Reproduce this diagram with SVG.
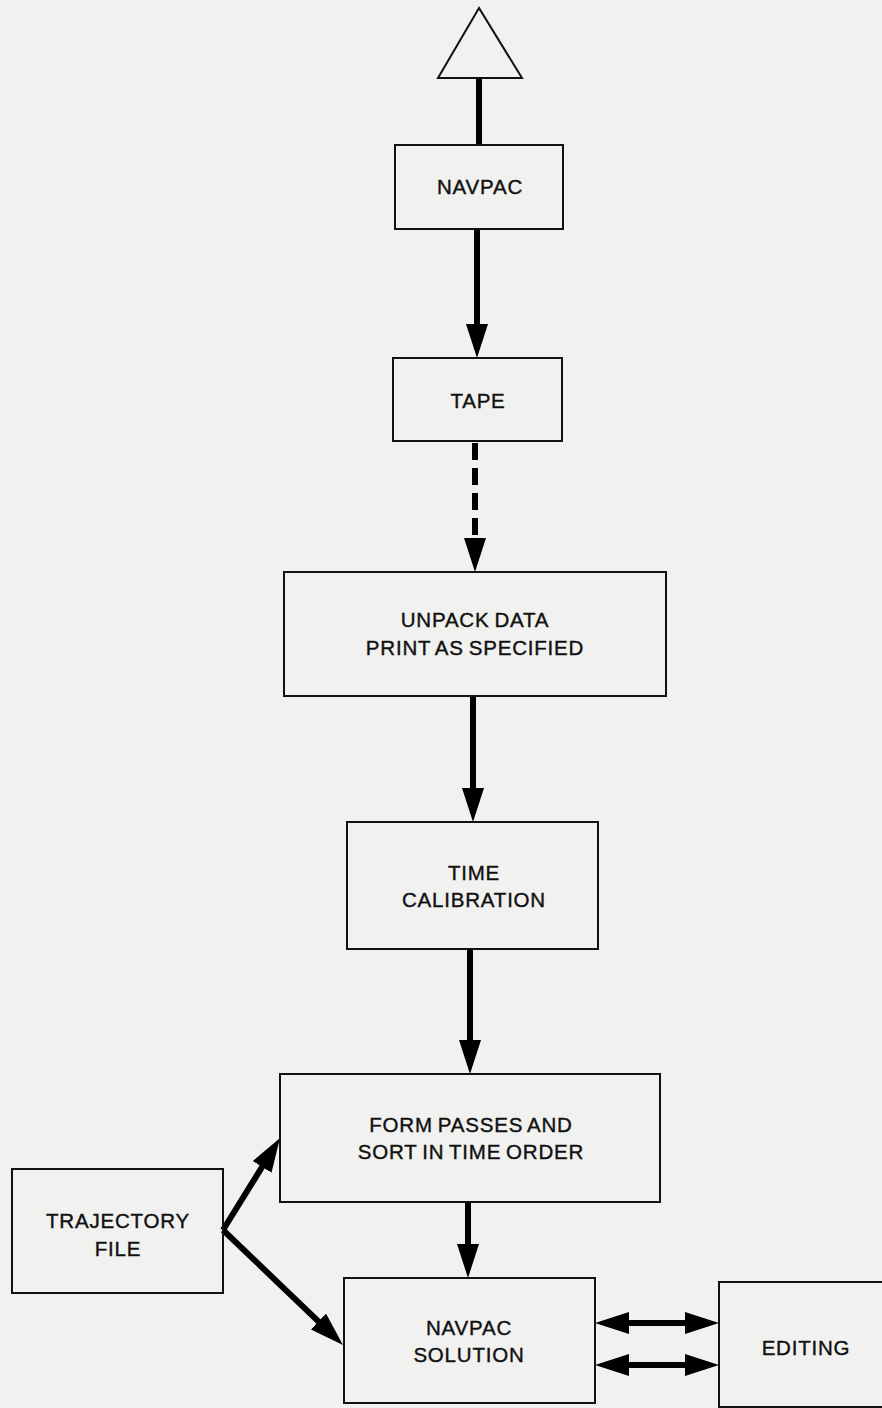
<svg xmlns="http://www.w3.org/2000/svg" width="882" height="1408" viewBox="0 0 882 1408">
  <style>
    .box { fill: none; stroke: #111; stroke-width: 2; }
    .lbl { font-family: "Liberation Sans", Arial, sans-serif; font-size: 20.5px; fill: #111; text-anchor: middle; letter-spacing: 0.8px; word-spacing: -1.5px; stroke: #111; stroke-width: 0.4; }
    .conn { stroke: #000; stroke-width: 6; fill: none; }
    .dash { stroke-dasharray: 17 8; }
  </style>
  <defs>
    <marker id="ah" viewBox="0 0 34 22" refX="22" refY="11" markerWidth="34" markerHeight="22" markerUnits="userSpaceOnUse" orient="auto-start-reverse">
      <path d="M0,0 L34,11 L0,22 Z" fill="#000"/>
    </marker>
  </defs>
  <rect width="882" height="1408" fill="#f1f1ef"/>

  <g id="connectors">
    <line class="conn" x1="479" y1="78" x2="479" y2="145"/>
    <line class="conn" x1="477" y1="229" x2="477" y2="346" marker-end="url(#ah)"/>
    <line class="conn dash" x1="475" y1="443" x2="475" y2="560" marker-end="url(#ah)"/>
    <line class="conn" x1="473" y1="696" x2="473" y2="810" marker-end="url(#ah)"/>
    <line class="conn" x1="470" y1="949" x2="470" y2="1062" marker-end="url(#ah)"/>
    <line class="conn" x1="468" y1="1202" x2="468" y2="1266" marker-end="url(#ah)"/>
    <line class="conn" x1="223" y1="1230" x2="273.7" y2="1148.2" marker-end="url(#ah)"/>
    <line class="conn" x1="223" y1="1230" x2="334.3" y2="1336.7" marker-end="url(#ah)"/>
    <line class="conn" x1="607" y1="1323" x2="707" y2="1323" marker-start="url(#ah)" marker-end="url(#ah)"/>
    <line class="conn" x1="607" y1="1365" x2="707" y2="1365" marker-start="url(#ah)" marker-end="url(#ah)"/>
  </g>

  <g id="start">
    <polygon class="box" points="479,8 438,78 522,78" stroke-width="2.5"/>
  </g>

  <g id="navpac">
    <rect class="box" x="395" y="145" width="168" height="84"/>
    <text class="lbl" x="480" y="194">NAVPAC</text>
  </g>

  <g id="tape">
    <rect class="box" x="393" y="358" width="169" height="83"/>
    <text class="lbl" x="478" y="408">TAPE</text>
  </g>

  <g id="unpack">
    <rect class="box" x="284" y="572" width="382" height="124"/>
    <text class="lbl" x="475" y="627">UNPACK DATA</text>
    <text class="lbl" x="475" y="655">PRINT AS SPECIFIED</text>
  </g>

  <g id="timecal">
    <rect class="box" x="347" y="822" width="251" height="127"/>
    <text class="lbl" x="474" y="880">TIME</text>
    <text class="lbl" x="474" y="907">CALIBRATION</text>
  </g>

  <g id="formpasses">
    <rect class="box" x="280" y="1074" width="380" height="128"/>
    <text class="lbl" x="471" y="1132">FORM PASSES AND</text>
    <text class="lbl" x="471" y="1159">SORT IN TIME ORDER</text>
  </g>

  <g id="trajectory">
    <rect class="box" x="12" y="1169" width="211" height="124"/>
    <text class="lbl" x="118" y="1228">TRAJECTORY</text>
    <text class="lbl" x="118" y="1256">FILE</text>
  </g>

  <g id="navsol">
    <rect class="box" x="344" y="1278" width="251" height="125"/>
    <text class="lbl" x="469" y="1335">NAVPAC</text>
    <text class="lbl" x="469" y="1362">SOLUTION</text>
  </g>

  <g id="editing">
    <rect class="box" x="719" y="1282" width="175" height="125"/>
    <text class="lbl" x="806" y="1355">EDITING</text>
  </g>
</svg>
